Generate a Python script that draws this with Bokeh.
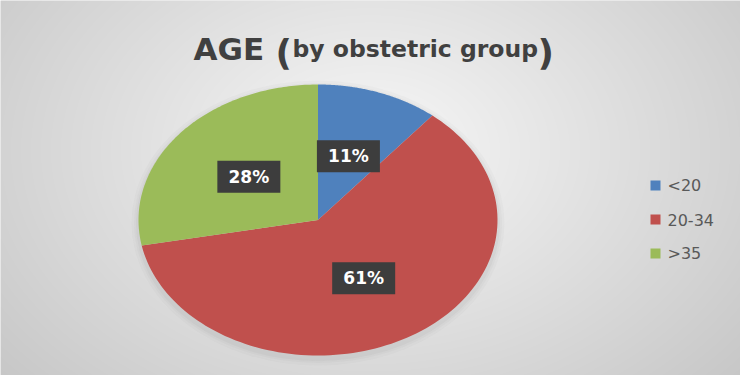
import numpy as np
from bokeh.plotting import figure
from bokeh.models import Range1d
from bokeh.core.properties import value
from bokeh.embed import file_html
from bokeh.resources import INLINE

# ---- data ----
title_main = "AGE"
title_sub = "by obstetric group"
categories = ["<20", "20-34", ">35"]
percentages = [11, 61, 28]
colors = ["#4f81bd", "#c0504d", "#9bbb59"]

# ---- layout ----
W, H = 740, 375


def Y(y):
    """convert a top-down pixel offset into a data y"""
    return H - np.asarray(y)


p = figure(width=W, height=H, x_range=Range1d(0, W), y_range=Range1d(0, H),
           output_backend="svg", toolbar_location=None, min_border=0)
p.axis.visible = False
p.grid.visible = False
p.outline_line_color = None
p.background_fill_color = "#e2e2e2"
p.border_fill_color = "#e2e2e2"

# background radial gradient (decoration)
xs_g = np.arange(W) + 0.5
ys_g = H - (np.arange(H) + 0.5)
GX, GY = np.meshgrid(xs_g, ys_g)
t = np.sqrt(((GX - 370) / 420) ** 2 + ((GY - 150) / 300) ** 2)
v = np.clip(248 - 42 * t, 190, 250).astype(np.uint32)
img = (np.uint32(255) << 24) | (v << 16) | (v << 8) | v
p.image_rgba(image=[img], x=0, y=0, dw=W, dh=H)

# pie (drawn as ellipse because the source image is stretched)
cx, cy = 317.5, 219.5
rx, ry = 179.5, 135.5

# soft shadow
for k, a in [(14, 0.03), (9, 0.04), (5, 0.05)]:
    p.ellipse([cx], [float(Y(cy + 3))], width=2 * rx + k, height=2 * ry + k,
              fill_color="#606060", fill_alpha=a, line_color=None)

total = float(sum(percentages))
start = 0.0
xs, ys, lx, ly = [], [], [], []
for pct in percentages:
    a0 = start / total * 2 * np.pi
    a1 = (start + pct) / total * 2 * np.pi
    th = np.linspace(a0, a1, 120)
    px = cx + rx * np.sin(th)
    py = cy - ry * np.cos(th)
    xs.append([cx] + list(px))
    ys.append(list(Y([cy] + list(py))))
    mid = (a0 + a1) / 2
    lx.append(cx + 0.5 * rx * np.sin(mid))
    ly.append(float(Y(cy - 0.5 * ry * np.cos(mid))))
    start += pct

p.patches(xs, ys, fill_color=colors, line_color=None)

# data labels
p.rect(lx, ly, width=63, height=32, fill_color="#3d3d3d", line_color=None)
p.text(lx, ly, text=[f"{v}%" for v in percentages], text_align="center",
       text_baseline="middle", text_color="white", text_font=value("DejaVu Sans"),
       text_font_style="bold", text_font_size="17px")

# title
p.text([193], [float(Y(48))], text=[title_main], text_font=value("DejaVu Sans"),
       text_font_style="bold", text_font_size="31px", text_color="#404040",
       text_align="left", text_baseline="alphabetic")
p.text([275], [float(Y(52))], text=["("], text_font=value("DejaVu Sans"),
       text_font_style="bold", text_font_size="36px", text_color="#404040",
       text_align="left", text_baseline="alphabetic")
p.text([292], [float(Y(48))], text=[title_sub], text_font=value("DejaVu Sans"),
       text_font_style="bold", text_font_size="23.5px", text_color="#404040",
       text_align="left", text_baseline="alphabetic")
p.text([537], [float(Y(52))], text=[")"], text_font=value("DejaVu Sans"),
       text_font_style="bold", text_font_size="36px", text_color="#404040",
       text_align="left", text_baseline="alphabetic")

# legend
leg_y = [float(Y(185 + 34 * i)) for i in range(len(categories))]
p.rect([655] * len(categories), leg_y, width=10, height=10, fill_color=colors, line_color=None)
p.text([667] * len(categories), leg_y, text=categories, text_font=value("DejaVu Sans"),
       text_font_size="16px", text_color="#595959", text_align="left", text_baseline="middle")

open("out.html", "w").write(file_html(p, INLINE))
